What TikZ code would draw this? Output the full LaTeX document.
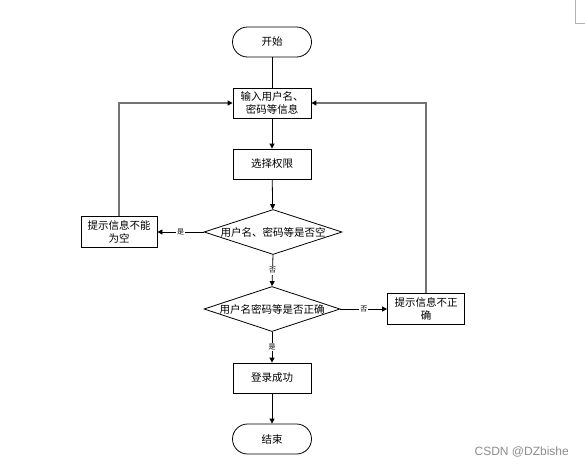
\documentclass[tikz,border=0pt]{standalone}
\usepackage{fontspec}
\setmainfont{Liberation Sans}
\newfontfamily\cjk{Noto Sans CJK SC}
\usetikzlibrary{shapes.geometric,arrows.meta}
\begin{document}
\begin{tikzpicture}[x=1pt,y=-1pt,
  every node/.style={font=\cjk\fontsize{10.5}{13}\selectfont},
  term/.style={draw,rounded corners=15pt,minimum width=79pt,minimum height=30pt,inner sep=0pt,line width=0.8pt},
  procbox/.style={draw,minimum width=78pt,minimum height=30pt,inner sep=0pt,align=center,line width=0.8pt},
  decide/.style={draw,shape=diamond,minimum width=138pt,minimum height=45pt,inner sep=0pt,line width=0.8pt},
  conn/.style={line width=0.8pt,-{Triangle[length=5pt,width=5pt]}},
  loopline/.style={line width=1.4pt,draw=black!55,-{Triangle[length=5pt,width=5pt,fill=black,color=black]}},
  yn/.style={fill=white,inner sep=1pt,font=\cjk\fontsize{7}{8}\selectfont}
]
\useasboundingbox (0,0) rectangle (585,466);
\node[term] (start) at (272,42) {开始};
\node[procbox] (input) at (272,103) {输入用户名、\\密码等信息};
\node[procbox] (sel) at (272,164) {选择权限};
\node[decide,label={center:用户名、密码等是否空}] (d1) at (273,232) {};
\node[procbox,minimum width=76pt,minimum height=31pt] (lbox) at (119,232) {提示信息不能\\为空};
\node[decide,minimum width=136pt,label={center:用户名密码等是否正确}] (d2) at (272,309) {};
\node[procbox,minimum width=77pt,minimum height=31pt] (rbox) at (426,309) {提示信息不正\\确};
\node[procbox] (ok) at (272,378) {登录成功};
\node[term] (stop) at (272,439) {结束};

\draw[line width=0.8pt] (start) -- (input);
\draw[conn] (input) -- (sel);
\draw[conn] (sel) -- (d1);
\draw[conn] (d1.west) -- node[yn] {是} (lbox.east);
\draw[conn] (d1.south) -- node[yn] {否} (d2.north);
\draw[conn] (d2.east) -- node[yn] {否} (rbox.west);
\draw[conn] (d2.south) -- node[yn] {是} (ok.north);
\draw[conn] (ok) -- (stop);
\draw[loopline] (lbox.north) |- (input.west);
\draw[loopline] (rbox.north) |- (input.east);

\node[font=\fontsize{12}{13}\selectfont,text=black!45,anchor=east,inner sep=0pt] (wm) at (569,452) {CSDN @DZbishe};
\draw[black!30,line width=0.6pt] (575,0) -- (575,23) -- (585,23);
\end{tikzpicture}
\end{document}
